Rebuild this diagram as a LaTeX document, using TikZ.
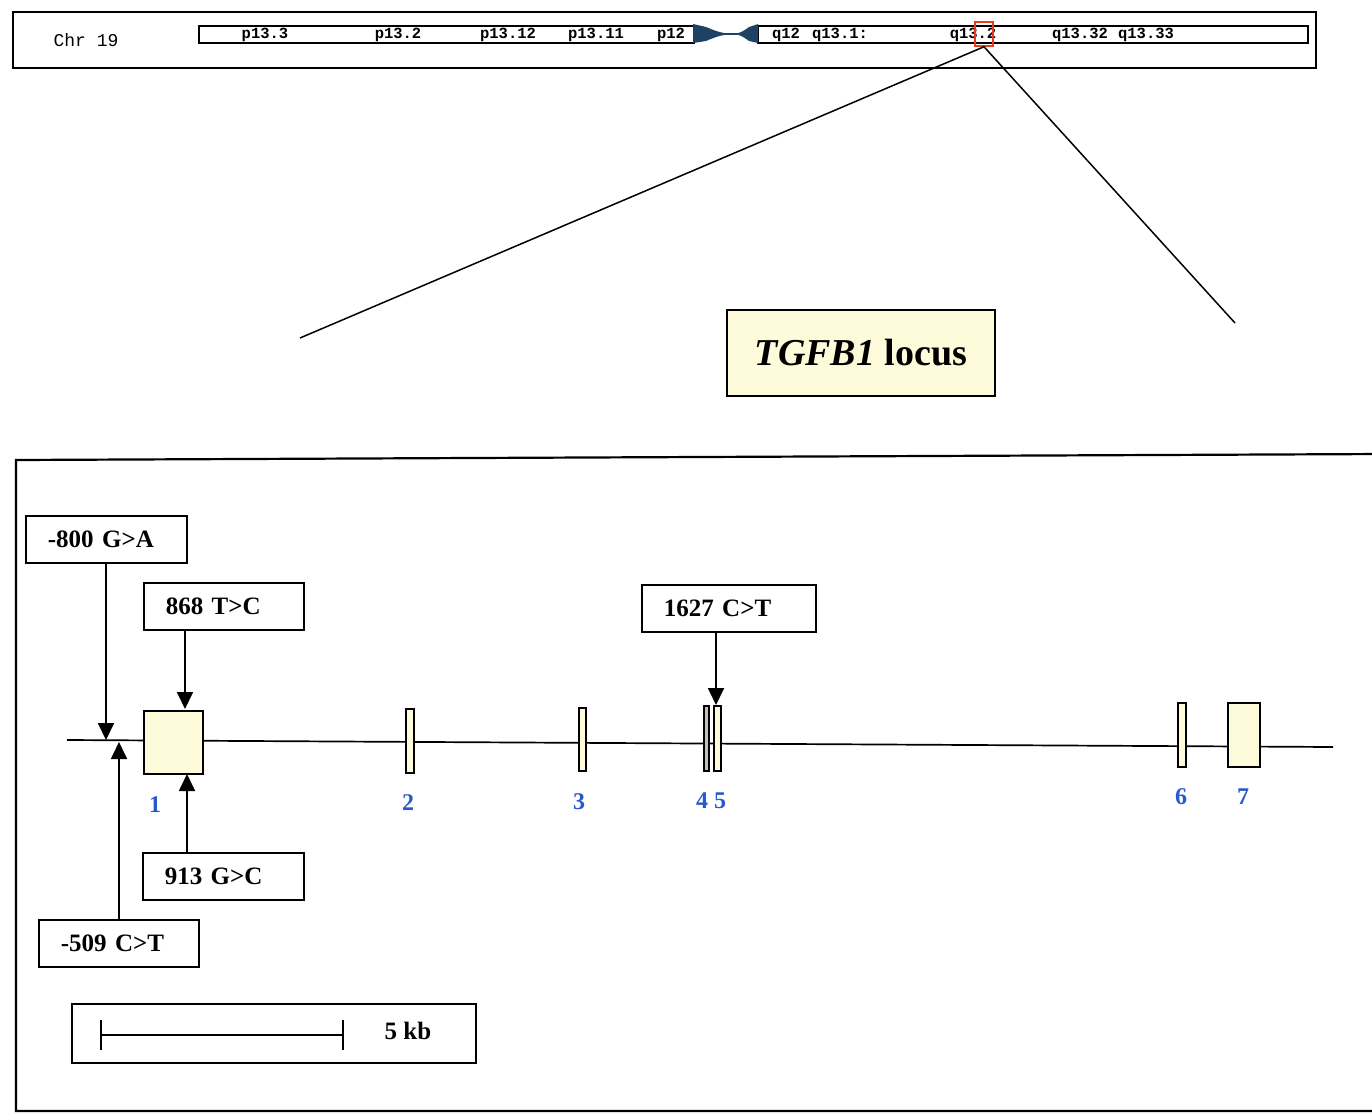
\documentclass[tikz,border=0pt]{standalone}
\usepackage{fontspec}
\setmainfont{Liberation Serif}
\newfontfamily\chrfont{Liberation Mono}
\usetikzlibrary{arrows.meta}
\definecolor{exfill}{RGB}{253,251,218}
\definecolor{cenblue}{RGB}{30,65,100}
\definecolor{numblue}{RGB}{40,90,205}
\definecolor{zoomred}{RGB}{230,60,30}
\begin{document}
\begin{tikzpicture}[x=1pt,y=-1pt,
  frame/.style={draw, line width=1.7pt},
  snpbox/.style={draw, line width=1.8pt, fill=white, anchor=north west, minimum height=47pt,
     inner xsep=22pt, align=left, font=\bfseries\fontsize{25}{30}\selectfont},
  exon/.style={draw, line width=1.6pt, fill=exfill, inner sep=0pt, anchor=north west},
  exnum/.style={text=numblue, font=\bfseries\fontsize{24}{28}\selectfont, inner sep=0pt},
  band/.style={font=\chrfont\bfseries\fontsize{15.5}{18}\selectfont, inner sep=0pt},
  arr/.style={line width=1.8pt, -{Triangle[width=16pt,length=17pt]}},
  thin/.style={line width=1.5pt}]
\useasboundingbox (0,0) rectangle (1372,1113);

% ---------- chromosome ideogram ----------
\node[frame, anchor=north west, minimum width=1303pt, minimum height=56pt, inner sep=0pt] (chrframe) at (12,11) {};
\node[font=\chrfont\fontsize{18}{20}\selectfont, inner sep=0pt] (chrlabel) at (86,40) {Chr 19};
\node[draw, line width=1.7pt, fill=white, anchor=north west, minimum width=495pt, minimum height=17pt, inner sep=0pt] (parm) at (198,25) {};
\node[draw, line width=1.7pt, fill=white, anchor=north west, minimum width=550pt, minimum height=17pt, inner sep=0pt] (qarm) at (757,25) {};
% centromere
\fill[cenblue] (693,24) -- (706,27) .. controls (713,30) and (718,32) .. (725,33.2) -- (725,34.8) .. controls (718,36) and (713,38) .. (706,41) -- (693,43) -- cycle;
\draw[cenblue, line width=1.5pt] (722,34) -- (742,34);
\fill[cenblue] (758,24) -- (749,27) .. controls (745,30) and (742,32) .. (738,33.2) -- (738,34.8) .. controls (742,36) and (745,38) .. (749,41) -- (758,43) -- cycle;
% band labels
\node[band] (b1) at (265,35) {p13.3};
\node[band] (b2) at (398,35) {p13.2};
\node[band] (b3) at (508,35) {p13.12};
\node[band] (b4) at (596,35) {p13.11};
\node[band] (b5) at (671,35) {p12};
\node[band] (b6) at (786,35) {q12};
\node[band] (b7) at (840,35) {q13.1:};
\node[band] (b8) at (973,35) {q13.2};
\node[band] (b9) at (1080,35) {q13.32};
\node[band] (b10) at (1146,35) {q13.33};
% zoom box
\node[draw=zoomred, line width=1.5pt, minimum width=18pt, minimum height=24pt, inner sep=0pt] (zoombox) at (984,34) {};
\coordinate (zl) at (300,338);
\coordinate (zr) at (1235,323);
\draw[thin] (zoombox.south) -- (zl);
\draw[thin] (zoombox.south) -- (zr);

% ---------- locus label ----------
\node[draw, line width=1.8pt, fill=exfill, minimum width=268pt, minimum height=86pt,
      font=\bfseries\fontsize{38}{44}\selectfont] (locus) at (861,353) {\itshape TGFB1\upshape{} locus};

% ---------- gene frame ----------
\draw[line width=2.2pt] (1385,454) -- (16,460) -- (16,1111) -- (1385,1111);

% gene backbone
\coordinate (gl) at (67,740);
\coordinate (gr) at (1333,747);
\draw[line width=1.7pt] (gl) -- (gr);

% exons
\node[exon, minimum width=59pt, minimum height=63pt] (e1) at (143,710) {};
\node[exon, minimum width=8pt, minimum height=64pt] (e2) at (405,708) {};
\node[exon, minimum width=7pt, minimum height=63pt] (e3) at (578,707) {};
\node[exon, minimum width=5pt, minimum height=65pt, fill=exfill!60!black!60] (e4) at (703,705) {};
\node[exon, minimum width=7pt, minimum height=65pt] (e5) at (713,705) {};
\node[exon, minimum width=8pt, minimum height=64pt] (e6) at (1177,702) {};
\node[exon, minimum width=32pt, minimum height=64pt] (e7) at (1227,702) {};

% exon numbers
\node[exnum] (n1) at (155,805) {1};
\node[exnum] (n2) at (408,803) {2};
\node[exnum] (n3) at (579,802) {3};
\node[exnum] (n45) at (711,801) {4 5};
\node[exnum] (n6) at (1181,797) {6};
\node[exnum] (n7) at (1243,797) {7};

% SNP boxes
\node[snpbox, text width=117pt] (s800) at (25,515) {-800 G>A};
\node[snpbox, text width=116pt] (s868) at (143,582) {868 T>C};
\node[snpbox, text width=130pt] (s1627) at (641,584) {1627 C>T};
\node[snpbox, text width=117pt] (s913) at (142,852) {913 G>C};
\node[snpbox, text width=116pt] (s509) at (38,919) {-509 C>T};

% SNP arrows
\coordinate (t800) at (106,740);
\coordinate (t509) at (119,742);
\coordinate (t868) at (185,709);
\coordinate (t913) at (187,774);
\coordinate (t1627) at (716,705);
\draw[arr] (s800.south -| t800) -- (t800);
\draw[arr] (s509.north -| t509) -- (t509);
\draw[arr] (s868.south -| t868) -- (t868);
\draw[arr] (s913.north -| t913) -- (t913);
\draw[arr] (s1627.south -| t1627) -- (t1627);

% scale bar
\node[draw, line width=1.8pt, anchor=north west, minimum width=404pt, minimum height=59pt, inner sep=0pt] (scalebox) at (71,1003) {};
\coordinate (sb1) at (100,1035);
\coordinate (sb2) at (344,1035);
\draw[line width=1.8pt, {Bar[width=30pt]}-{Bar[width=30pt]}] (sb1) -- (sb2);
\node[font=\bfseries\fontsize{25}{30}\selectfont, inner sep=0pt] (kb) at (408,1031) {5 kb};
\end{tikzpicture}
\end{document}
